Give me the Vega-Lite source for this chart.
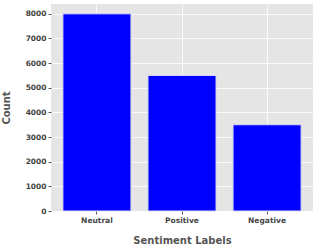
{
  "$schema": "https://vega.github.io/schema/vega-lite/v6.json",
  "width": 262,
  "height": 207,
  "autosize": "none",
  "padding": {"left": 51, "top": 4, "right": 3, "bottom": 38},
  "background": "white",
  "config": {
    "view": {"fill": "#E5E5E5", "stroke": null},
    "axis": {
      "labelFont": "DejaVu Sans",
      "titleFont": "DejaVu Sans",
      "labelFontSize": 7.5,
      "labelFontWeight": "bold",
      "labelColor": "#444444",
      "titleFontSize": 10,
      "titleFontWeight": "bold",
      "titleColor": "#555555",
      "domain": false,
      "tickColor": "#555555",
      "tickSize": 3,
      "gridColor": "white",
      "gridOpacity": 0.8,
      "gridWidth": 1
    }
  },
  "data": {
    "values": [
      {"label": "Neutral", "count": 8000},
      {"label": "Positive", "count": 5500},
      {"label": "Negative", "count": 3500}
    ]
  },
  "mark": {"type": "bar", "color": "#0000FF", "stroke": "#D8D8F0", "strokeWidth": 1},
  "encoding": {
    "x": {
      "field": "label",
      "type": "nominal",
      "sort": null,
      "scale": {"paddingInner": 0.2, "paddingOuter": 0.14},
      "axis": {"title": "Sentiment Labels", "labelAngle": 0, "labelPadding": 2, "titlePadding": 12, "grid": true, "bandPosition": 0.5}
    },
    "y": {
      "field": "count",
      "type": "quantitative",
      "scale": {"domain": [0, 8400], "nice": false},
      "axis": {"title": "Count", "values": [0, 1000, 2000, 3000, 4000, 5000, 6000, 7000, 8000], "format": "d", "labelPadding": 2, "titlePadding": 14, "grid": true}
    }
  }
}
